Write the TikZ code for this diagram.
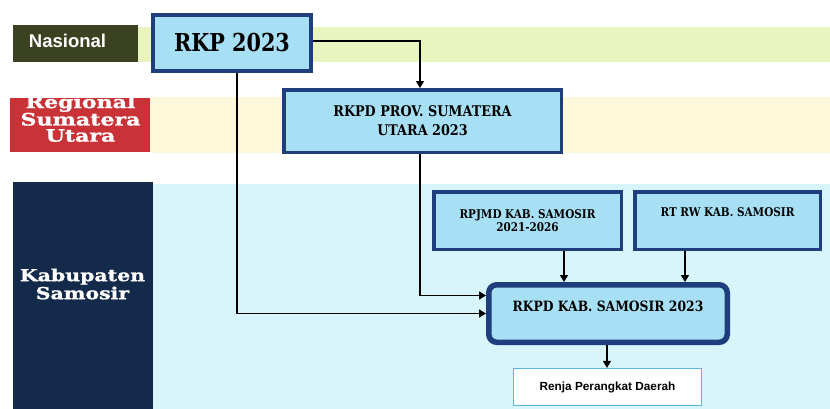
\documentclass[tikz,border=0pt]{standalone}
\usepackage{fontspec}
\usetikzlibrary{arrows.meta}
\newfontfamily\boxfont{DejaVu Serif}[FakeStretch=0.87]
\newfontfamily\rkpfont{DejaVu Serif}[FakeStretch=0.84]
\newfontfamily\regfont{DejaVu Serif}[FakeStretch=1.3,FakeBold=1.2]
\newfontfamily\kabfont{DejaVu Serif}[FakeStretch=1.24,FakeBold=1.2]
\newfontfamily\sansb{Liberation Sans}
\definecolor{bandgreen}{HTML}{E9F5BF}
\definecolor{bandyellow}{HTML}{FDF8D9}
\definecolor{bandcyan}{HTML}{D7F5FA}
\definecolor{olivebox}{HTML}{3A4222}
\definecolor{redbox}{HTML}{C93338}
\definecolor{navybox}{HTML}{142A4B}
\definecolor{boxfill}{HTML}{A7DFF4}
\definecolor{boxline}{HTML}{1E3E7E}
\definecolor{renjaline}{HTML}{5DB6E2}
\tikzset{
  labbox/.style={rectangle, draw=none, inner sep=0pt},
  labtext/.style={text=white, align=center, inner sep=0pt},
  planbox/.style={rectangle, draw=boxline, fill=boxfill, line width=3.5pt, inner sep=0pt, align=center},
  conn/.style={line width=1.3pt, draw=black},
  arr/.style={conn, -{Triangle[length=7pt,width=8pt]}},
}
\begin{document}
\begin{tikzpicture}[x=1pt, y=-1pt]
\useasboundingbox (0,0) rectangle (830,408);
% bands
\fill[bandgreen] (137,27) rectangle (830,62);
\fill[bandyellow] (150,97) rectangle (830,153);
\fill[bandcyan] (153,184) rectangle (830,412);
% level labels
\node[labbox, fill=olivebox, minimum width=125pt, minimum height=37pt] (nasbox) at (75.5,43.5) {};
\node[labtext, font=\sansb\bfseries\fontsize{18.5}{20}\selectfont] (nastext) at (67.5,41) {Nasional};
\node[labbox, fill=redbox, minimum width=140pt, minimum height=54pt] (regbox) at (80,125) {};
\node[labtext, font=\regfont\bfseries\fontsize{17}{16.2}\selectfont] (regtext) at (80.5,118.5) {Regional\\Sumatera\\Utara};
\node[labbox, fill=navybox, minimum width=140pt, minimum height=230pt] (kabbox) at (83,297) {};
\node[labtext, font=\kabfont\bfseries\fontsize{16.5}{18}\selectfont] (kabtext) at (82.5,284) {Kabupaten\\Samosir};
% plan boxes
\node[planbox, line width=4pt, minimum width=158pt, minimum height=56pt, font=\rkpfont\bfseries\fontsize{24.7}{28}\selectfont] (rkp) at (232,43) {RKP 2023};
\node[planbox, minimum width=277.5pt, minimum height=62.5pt, font=\boxfont\bfseries\fontsize{14.7}{19}\selectfont] (prov) at (422.5,121) {RKPD PROV. SUMATERA\\UTARA 2023};
\node[planbox, minimum width=187.5pt, minimum height=57.5pt, font=\boxfont\bfseries\fontsize{12}{13.5}\selectfont] (rpjmd) at (527.5,220.5) {RPJMD KAB. SAMOSIR\\2021-2026};
\node[planbox, minimum width=185.5pt, minimum height=57.5pt, text height=8pt, text depth=17pt, font=\boxfont\bfseries\fontsize{12}{13.5}\selectfont] (rtrw) at (727.5,220.5) {RT RW KAB. SAMOSIR};
\node[planbox, line width=5.5pt, rounded corners=8pt, minimum width=238.5pt, minimum height=57.5pt, text height=10pt, text depth=13.6pt, font=\boxfont\bfseries\fontsize{14.2}{16}\selectfont] (kab) at (608,313.5) {RKPD KAB. SAMOSIR 2023};
\node[rectangle, draw=renjaline, fill=white, line width=1.2pt, minimum width=188pt, minimum height=37pt, inner sep=0pt, font=\sansb\bfseries\fontsize{11.8}{14}\selectfont] (renja) at (607.5,387) {Renja Perangkat Daerah};
% connectors
\draw[arr] ([yshift=2pt]rkp.east) -| ([xshift=-2.5pt]prov.north);
\draw[arr] ([xshift=5pt]rkp.south) |- (kab.west);
\draw[arr] ([xshift=-2.5pt]prov.south) |- ([yshift=18pt]kab.west);
\draw[arr] ([xshift=36.5pt]rpjmd.south) -- ([xshift=36.5pt]rpjmd.south |- kab.north);
\draw[arr] ([xshift=-42.5pt]rtrw.south) -- ([xshift=-42.5pt]rtrw.south |- kab.north);
\draw[arr] ([xshift=-1pt]kab.south) -- ([xshift=-0.5pt]renja.north);
\end{tikzpicture}
\end{document}
